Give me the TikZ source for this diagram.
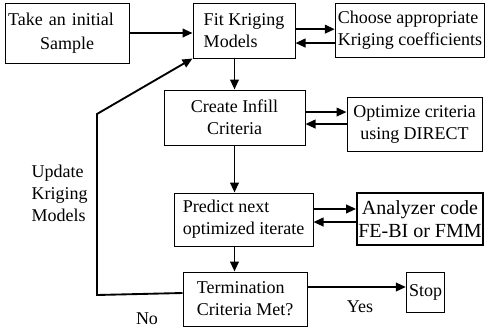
\documentclass[tikz,border=0pt]{standalone}
\usepackage{fontspec}
\setmainfont{Liberation Serif}
\usetikzlibrary{arrows.meta}

\tikzset{
	box/.style={draw, line width=0.75pt, inner sep=2pt, align=left},
	arr/.style={line width=1.4pt, -{Triangle[length=7.5pt,width=6.5pt]}},
}

\begin{document}
\begin{tikzpicture}[x=0.75pt, y=-0.75pt, font=\fontsize{13.5}{16.5}\selectfont]
	\useasboundingbox (0,0) rectangle (485,332);
	
	\node[box, text width=89pt, inner xsep=2.25pt, minimum height=45pt] (take) at (67.5,33) {Take an initial\\[1.5pt]\hspace*{24pt}Sample};
	\node[box, minimum width=76.5pt, minimum height=41.25pt] (fit) at (244,30.5) {Fit Kriging\\Models};
	\node[box, minimum width=111pt, minimum height=40.5pt] (choose) at (410,30) {Choose appropriate\\Kriging coefficients};
	\node[box, align=center, minimum width=105.75pt, minimum height=41.25pt] (infill) at (234.5,117.5) {Create Infill\\Criteria};
	\node[box, align=center, minimum width=101.25pt, minimum height=40.5pt] (direct) at (414.5,124) {Optimize criteria\\using DIRECT};
	\node[box, minimum width=104.25pt, minimum height=39.75pt] (predict) at (243.5,219.5) {Predict next\\optimized iterate};
	\node[box, line width=1.4pt, align=center, minimum width=94.5pt, minimum height=39pt, inner sep=0.5pt, font=\fontsize{15}{17.25}\selectfont] (analyzer) at (420,219) {Analyzer code\\FE-BI or FMM};
	\node[box, minimum width=93pt, minimum height=40.5pt] (term) at (245,299) {Termination\\Criteria Met?};
	\node[box, minimum width=26.25pt, minimum height=30pt] (stop) at (425.5,292) {Stop};
	
	\node[align=left, anchor=west] (update) at (27,193) {Update\\Kriging\\Models};
	\node (no) at (147,319) {No};
	\node (yes) at (360,307) {Yes};
	
	\draw[arr] (take.east) -- (take.east -| fit.west);
	\draw[arr] ([yshift=1pt]fit.east) -- ([yshift=1pt]fit.east -| choose.west);
	\draw[arr] ([yshift=-9.4pt]fit.east -| choose.west) -- ([yshift=-9.4pt]fit.east);
	\draw[arr] (fit.south -| infill.north) -- (infill.north);
	\draw[arr] ([yshift=4.1pt]infill.east) -- ([yshift=4.1pt]infill.east -| direct.west);
	\draw[arr] ([yshift=-4.9pt]infill.east -| direct.west) -- ([yshift=-4.9pt]infill.east);
	\draw[arr] (infill.south) -- (predict.north -| infill.south);
	\draw[arr] ([yshift=7.9pt]predict.east) -- ([yshift=7.9pt]predict.east -| analyzer.west);
	\draw[arr] ([yshift=-1.9pt]predict.east -| analyzer.west) -- ([yshift=-1.9pt]predict.east);
	\draw[arr] (predict.south -| infill.south) -- (term.north -| infill.south);
	\draw[arr] ([yshift=9pt]term.east) -- ([yshift=9pt]term.east -| stop.west);
	
	% loop back
	\coordinate (nobend) at (97,295);
	\coordinate (upbend) at (97,114);
	\draw[arr] ([yshift=4.5pt]term.west) -- (nobend) -- (upbend) -- (fit.south west);
	
\end{tikzpicture}
\end{document}
